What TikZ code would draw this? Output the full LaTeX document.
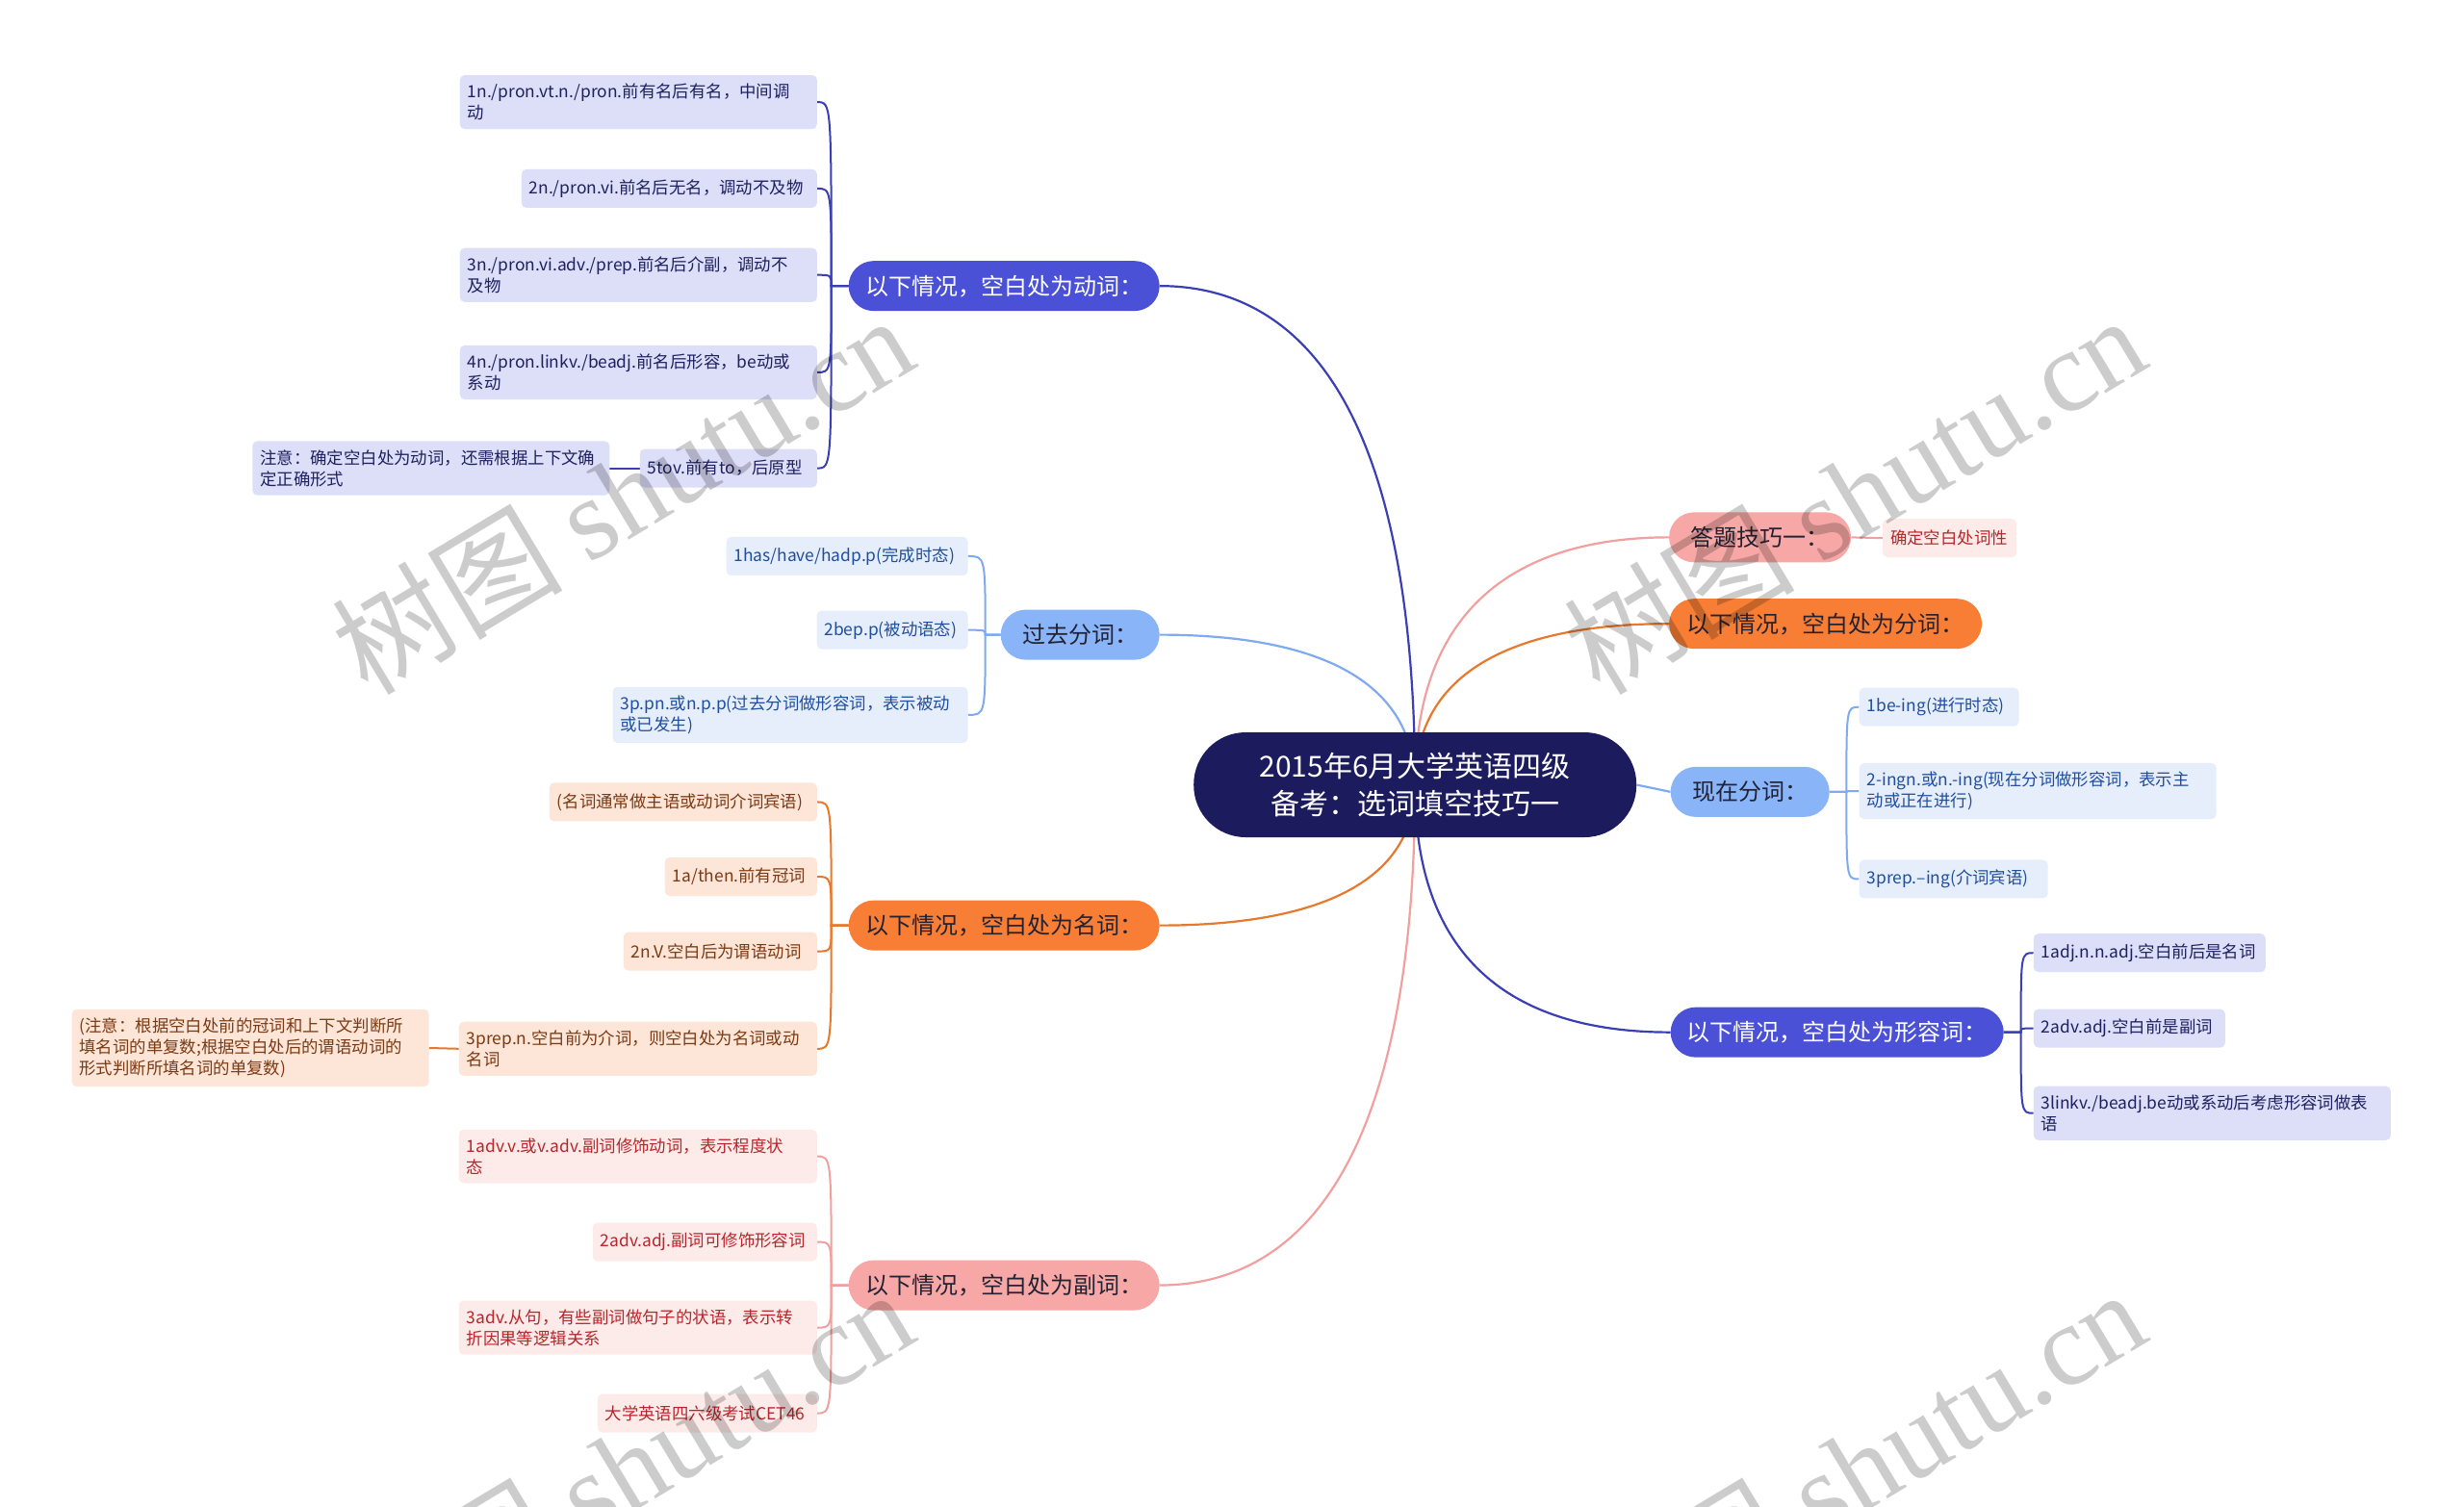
\documentclass[tikz,border=0pt]{standalone}
\usepackage{fontspec}
\setmainfont{Noto Sans CJK SC}
\newfontfamily\wmserif{Liberation Serif}
\usetikzlibrary{backgrounds}
\definecolor{rootc}{HTML}{1C1B5E}
\definecolor{violetc}{HTML}{4A51D6}
\definecolor{lblue}{HTML}{8AB4F8}
\definecolor{orangec}{HTML}{F77E34}
\definecolor{pinkc}{HTML}{F7A8A6}
\definecolor{lvfill}{HTML}{DDDEF8}
\definecolor{lbfill}{HTML}{E6EEFC}
\definecolor{lofill}{HTML}{FDE5D8}
\definecolor{lpfill}{HTML}{FDEBEA}
\definecolor{lvtext}{HTML}{1F2060}
\definecolor{lbtext}{HTML}{1F4E9E}
\definecolor{lotext}{HTML}{7B3A12}
\definecolor{lptext}{HTML}{B7262B}
\definecolor{darktext}{HTML}{222233}
\definecolor{vline}{HTML}{3A3FB5}
\definecolor{bline}{HTML}{7FAAF0}
\definecolor{oline}{HTML}{E8782C}
\definecolor{pline}{HTML}{F0A09E}
\begin{document}
\begin{tikzpicture}[x=1.6327pt,y=-1.6327pt,
  rootnode/.style={rectangle, rounded corners=54pt, fill=rootc, text=white,
    minimum width=460pt, minimum height=109pt, align=center,
    font=\fontsize{30pt}{39pt}\selectfont},
  mainnode/.style={rectangle, rounded corners=26pt, minimum height=52pt,
    inner sep=0pt, font=\fontsize{24pt}{28pt}\selectfont},
  mv/.style={mainnode, fill=violetc, text=white},
  mb/.style={mainnode, fill=lblue, text=darktext},
  mo/.style={mainnode, fill=orangec, text=darktext},
  mp/.style={mainnode, fill=pinkc, text=darktext},
  leaf/.style={rectangle, rounded corners=5pt, inner xsep=8pt, inner ysep=9pt,
    minimum height=40pt, align=left, font=\fontsize{17.4pt}{22pt}\selectfont},
  lfv/.style={leaf, fill=lvfill, text=lvtext},
  lfb/.style={leaf, fill=lbfill, text=lbtext},
  lfo/.style={leaf, fill=lofill, text=lotext},
  lfp/.style={leaf, fill=lpfill, text=lptext},
  rootedge/.style={line width=2.2pt},
  leafedge/.style={line width=2pt},
  wm/.style={rotate=31, text=black, opacity=0.2, font=\fontsize{120pt}{120pt}\selectfont}
]
\useasboundingbox (0,0) rectangle (1568,959);

% root
\node[rootnode] (root) at (900.5,499.5) {2015年6月大学英语四级\\备考：选词填空技巧一};

% main branches
\node[mv, minimum width=323pt, anchor=east] (b1) at (738,182) {以下情况，空白处为动词：};
\node[mb, minimum width=165pt, anchor=east] (b2) at (738,404) {过去分词：};
\node[mo, minimum width=323pt, anchor=east] (b3) at (738,589) {以下情况，空白处为名词：};
\node[mp, minimum width=323pt, anchor=east] (b4) at (738,818) {以下情况，空白处为副词：};
\node[mp, minimum width=189pt, anchor=west] (b5) at (1062,342) {答题技巧一：};
\node[mo, minimum width=325pt, anchor=west] (b6) at (1062,397) {以下情况，空白处为分词：};
\node[mb, minimum width=165pt, anchor=west] (b7) at (1063,504) {现在分词：};
\node[mv, minimum width=346pt, anchor=west] (b8) at (1063,657) {以下情况，空白处为形容词：};

% verb leaves
\node[lfv, text width=355pt, anchor=east] (L1) at (520,65) {1n./pron.vt.n./pron.前有名后有名，中间调\\动};
\node[lfv, text width=291pt, anchor=east] (L2) at (520,120) {2n./pron.vi.前名后无名，调动不及物};
\node[lfv, text width=355pt, anchor=east] (L3) at (520,175) {3n./pron.vi.adv./prep.前名后介副，调动不\\及物};
\node[lfv, text width=355pt, anchor=east] (L4) at (520,237) {4n./pron.linkv./beadj.前名后形容，be动或\\系动};
\node[lfv, text width=168pt, anchor=east] (L5) at (520,298) {5tov.前有to，后原型};
\node[lfv, text width=355pt, anchor=east] (L5c) at (388,298) {注意：确定空白处为动词，还需根据上下文确\\定正确形式};

% past participle leaves
\node[lfb, text width=235pt, anchor=east] (P1) at (616,354) {1has/have/hadp.p(完成时态)};
\node[lfb, text width=141pt, anchor=east] (P2) at (616,401) {2bep.p(被动语态)};
\node[lfb, text width=353pt, anchor=east] (P3) at (616,455) {3p.pn.或n.p.p(过去分词做形容词，表示被动\\或已发生)};

% noun leaves
\node[lfo, text width=262pt, anchor=east] (N0) at (520,510.5) {(名词通常做主语或动词介词宾语)};
\node[lfo, text width=142pt, anchor=east] (N1) at (520,558) {1a/then.前有冠词};
\node[lfo, text width=185pt, anchor=east] (N2) at (520,605.5) {2n.V.空白后为谓语动词};
\node[lfo, text width=356pt, anchor=east] (N3) at (520,667.5) {3prep.n.空白前为介词，则空白处为名词或动\\名词};
\node[lfo, text width=355pt, anchor=east] (N3c) at (273,667) {(注意：根据空白处前的冠词和上下文判断所\\填名词的单复数;根据空白处后的谓语动词的\\形式判断所填名词的单复数)};

% adverb leaves
\node[lfp, text width=356pt, anchor=east] (A1) at (520,736) {1adv.v.或v.adv.副词修饰动词，表示程度状\\态};
\node[lfp, text width=217pt, anchor=east] (A2) at (520,790.5) {2adv.adj.副词可修饰形容词};
\node[lfp, text width=356pt, anchor=east] (A3) at (520,845) {3adv.从句，有些副词做句子的状语，表示转\\折因果等逻辑关系};
\node[lfp, text width=212pt, anchor=east] (A4) at (520,899.5) {大学英语四六级考试CET46};

% right leaves
\node[lfp, text width=123pt, anchor=west] (R0) at (1198,342.5) {确定空白处词性};
\node[lfb, text width=150pt, anchor=west] (C1) at (1183,450) {1be-ing(进行时态)};
\node[lfb, text width=355pt, anchor=west] (C2) at (1183,503.5) {2-ingn.或n.-ing(现在分词做形容词，表示主\\动或正在进行)};
\node[lfb, text width=180pt, anchor=west] (C3) at (1183,559.5) {3prep.–ing(介词宾语)};
\node[lfv, text width=225pt, anchor=west] (J1) at (1294,606.5) {1adj.n.n.adj.空白前后是名词};
\node[lfv, text width=183pt, anchor=west] (J2) at (1294,654.5) {2adv.adj.空白前是副词};
\node[lfv, text width=355pt, anchor=west] (J3) at (1294,708.5) {3linkv./beadj.be动或系动后考虑形容词做表\\语};

\begin{scope}[on background layer]
\fill[white] (0,0) rectangle (1568,959);
% root edges
\draw[rootedge, vline] (root.center) .. controls (900,245) and (819,182) .. (b1.east);
\draw[rootedge, bline] (root.center) .. controls (900,423) and (819,404) .. (b2.east);
\draw[rootedge, oline] (root.center) .. controls (900,571) and (819,589) .. (b3.east);
\draw[rootedge, pline] (root.center) .. controls (900,754) and (819,818) .. (b4.east);
\draw[rootedge, pline] (root.center) .. controls (900,374) and (981,342) .. (b5.west);
\draw[rootedge, oline] (root.center) .. controls (900,418) and (981,397) .. (b6.west);
\draw[rootedge, bline] (root.east) -- (b7.west);
\draw[rootedge, vline] (root.center) .. controls (900,626) and (981,657) .. (b8.west);

% verb group
\foreach \c/\y in {L1/65, L2/120, L3/175, L4/237, L5/298}
  \draw[leafedge, vline] (b1.west) -- (529,182) .. controls (529,\y) and (529,\y) .. (\c.east);
\draw[leafedge, vline] (L5.west) -- (L5c.east);

% past participle group
\foreach \c/\y in {P1/354, P2/401, P3/455}
  \draw[leafedge, bline] (b2.west) -- (627,404) .. controls (627,\y) and (627,\y) .. (\c.east);

% noun group
\foreach \c/\y in {N0/510.5, N1/558, N2/605.5, N3/667.5}
  \draw[leafedge, oline] (b3.west) -- (529,589) .. controls (529,\y) and (529,\y) .. (\c.east);
\draw[leafedge, oline] (N3.west) -- (N3c.east);

% adverb group
\foreach \c/\y in {A1/736, A2/790.5, A3/845, A4/899.5}
  \draw[leafedge, pline] (b4.west) -- (529,818) .. controls (529,\y) and (529,\y) .. (\c.east);

% right groups
\draw[leafedge, pline] (b5.east) -- (R0.west);
\foreach \c/\y in {C1/450, C2/503.5, C3/559.5}
  \draw[leafedge, bline] (b7.east) -- (1175,504) .. controls (1175,\y) and (1175,\y) .. (\c.west);
\foreach \c/\y in {J1/606.5, J2/654.5, J3/708.5}
  \draw[leafedge, vline] (b8.east) -- (1286,657) .. controls (1286,\y) and (1286,\y) .. (\c.west);
\end{scope}

% watermarks
\node[wm] (wm1) at (396,314) {树图 {\wmserif shutu.cn}};
\node[wm] (wm2) at (1180,314) {树图 {\wmserif shutu.cn}};
\node[wm] (wm3) at (396,934) {树图 {\wmserif shutu.cn}};
\node[wm] (wm4) at (1180,934) {树图 {\wmserif shutu.cn}};
\end{tikzpicture}
\end{document}
